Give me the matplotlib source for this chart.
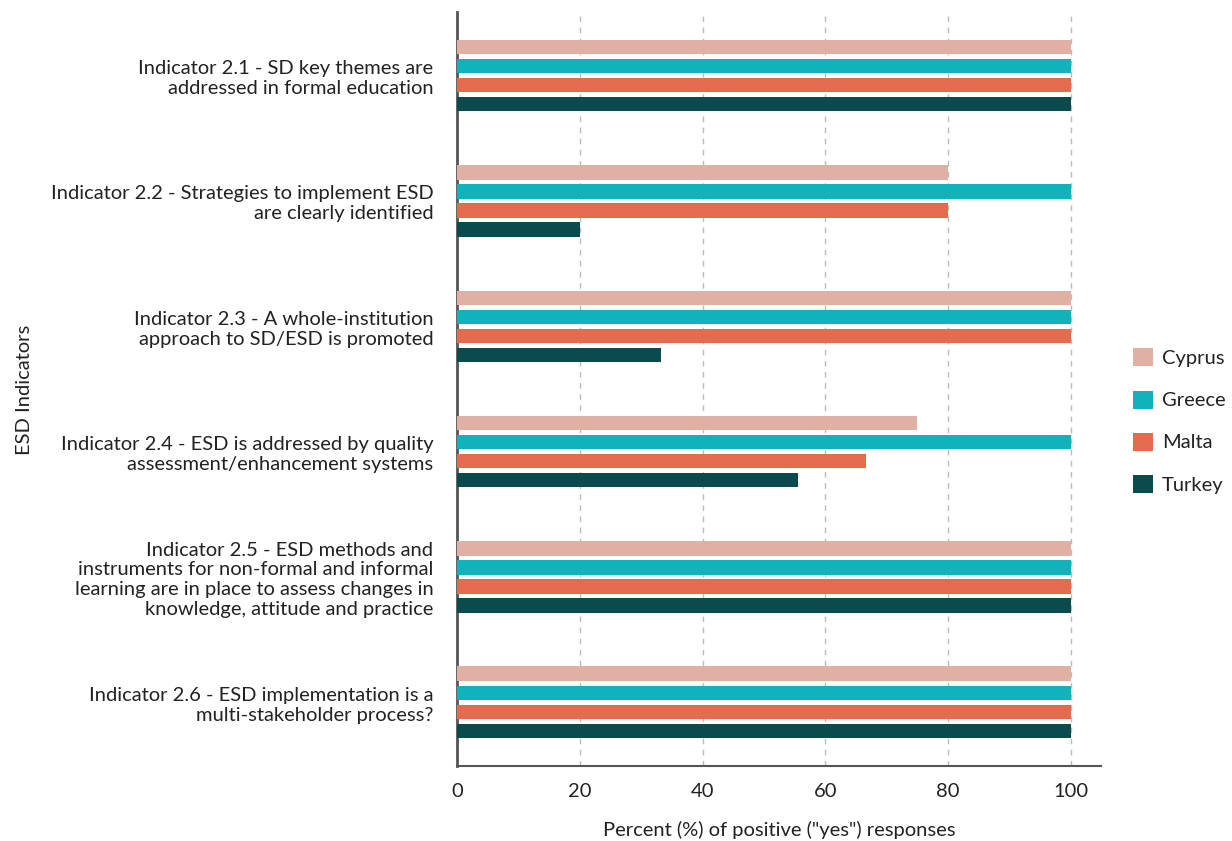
import numpy as np
import matplotlib
matplotlib.use("Agg")
import matplotlib.pyplot as plt

plt.rcParams['font.family'] = ['Lato', 'DejaVu Sans']

indicators = [
    "Indicator 2.1 - SD key themes are\naddressed in formal education",
    "Indicator 2.2 - Strategies to implement ESD\nare clearly identified",
    "Indicator 2.3 - A whole-institution\napproach to SD/ESD is promoted",
    "Indicator 2.4 - ESD is addressed by quality\nassessment/enhancement systems",
    "Indicator 2.5 - ESD methods and\ninstruments for non-formal and informal\nlearning are in place to assess changes in\nknowledge, attitude and practice",
    "Indicator 2.6 - ESD implementation is a\nmulti-stakeholder process?",
]
countries = ["Cyprus", "Greece", "Malta", "Turkey"]
cyprus = [100, 80, 100, 75, 100, 100]
greece = [100, 100, 100, 100, 100, 100]
malta = [100, 80, 100, 66.7, 100, 100]
turkey = [100, 20, 33.3, 55.6, 100, 100]
colors = ["#e0b0a4", "#10b3bc", "#e56b4e", "#0b4b50"]

fs = 14.5
txt = "#222222"

fig = plt.figure(figsize=(12.32, 8.41), dpi=100)
ax = fig.add_axes([0.371, 0.089, 0.523, 0.897])

y = np.arange(len(indicators))
step = 0.152
height = 0.115
for i, (vals, c, name) in enumerate(zip([cyprus, greece, malta, turkey], colors, countries)):
    ax.barh(y + (i - 1.5) * step, vals, height=height, color=c, label=name, zorder=3)

ax.set_ylim(len(indicators) - 0.49, -0.51)
ax.set_xlim(0, 105)
ax.set_xticks([0, 20, 40, 60, 80, 100])
ax.set_yticks(y)
ax.set_yticklabels(indicators, fontsize=fs, color=txt, linespacing=1.2)
ax.tick_params(axis='y', length=0, pad=17)
ax.tick_params(axis='x', length=0, pad=12, labelsize=fs, labelcolor=txt)
ax.grid(axis='x', linestyle=(0, (4, 4)), color="#bbbbbb", linewidth=1, zorder=0)
for s in ['top', 'right']:
    ax.spines[s].set_visible(False)
ax.spines['left'].set_color("#555555")
ax.spines['left'].set_linewidth(2)
ax.spines['bottom'].set_color("#555555")
ax.spines['bottom'].set_linewidth(1.5)

ax.set_xlabel('Percent (%) of positive ("yes") responses', fontsize=fs, labelpad=15, color=txt)
fig.text(0.02, 0.536, "ESD Indicators", rotation=90, va='center', ha='center', fontsize=fs, color=txt)

leg = ax.legend(loc='center left', bbox_to_anchor=(1133 / 1232, 1 - 421 / 841),
                bbox_transform=fig.transFigure, frameon=False, borderpad=0, borderaxespad=0,
                fontsize=fs, handlelength=1.0, handleheight=1.0, labelspacing=1.15,
                handletextpad=0.45)
for t in leg.get_texts():
    t.set_color(txt)

fig.savefig("out.png", dpi=100)
